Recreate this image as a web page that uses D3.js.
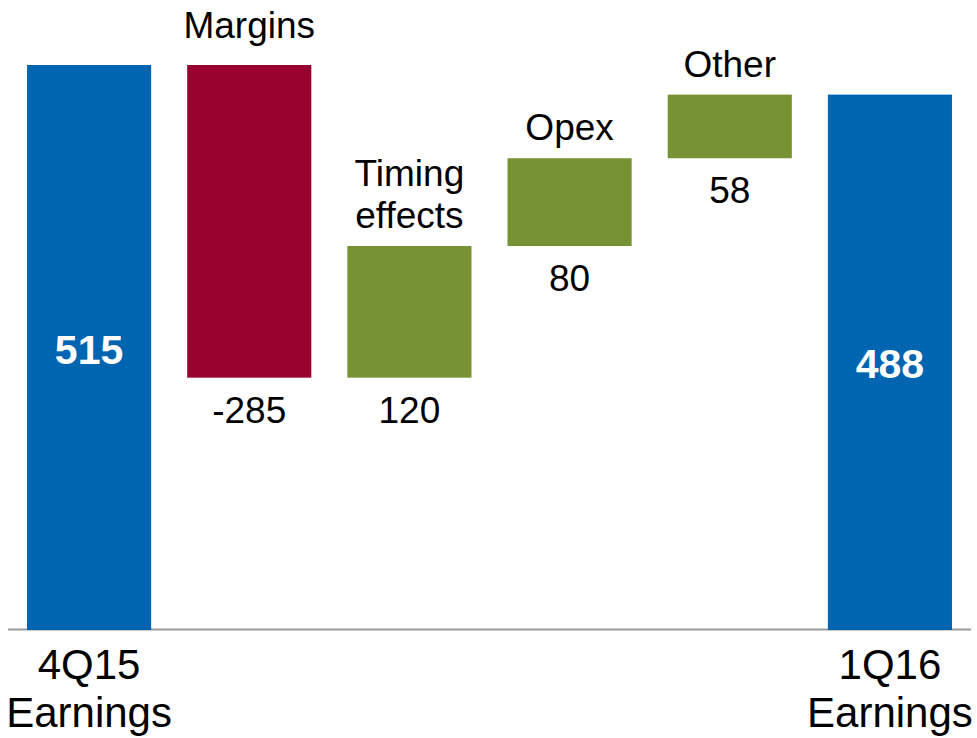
<!DOCTYPE html>
<html>
<head>
<meta charset="utf-8">
<script src="https://cdn.jsdelivr.net/npm/d3@7"></script>
<style>
  html, body { margin: 0; padding: 0; background: #fff; }
  svg { display: block; font-family: "Liberation Sans", Arial, sans-serif; }
</style>
</head>
<body>
<svg id="chart" width="977" height="738"></svg>
<script>
// ---- data ----
const categories = ["4Q15 Earnings", "Margins", "Timing effects", "Opex", "Other", "1Q16 Earnings"];
const values     = [515, -285, 120, 80, 58, 488];
const kinds      = ["total", "delta", "delta", "delta", "delta", "total"];
const axisLabels = [["4Q15", "Earnings"], [], [], [], [], ["1Q16", "Earnings"]];
const barLabels  = [[], ["Margins"], ["Timing", "effects"], ["Opex"], ["Other"], []];

const colors = { total: "#0065b0", pos: "#779232", neg: "#98002e" };

// ---- layout ----
const svg = d3.select("#chart");

const x = d3.scaleBand()
  .domain(categories)
  .range([9, 970])
  .paddingInner(0.225)
  .paddingOuter(0.1125);

const y = d3.scaleLinear().domain([0, 515]).range([630, 65]);

// compute waterfall segments
let running = 0;
const bars = categories.map((c, i) => {
  let y0, y1;
  if (kinds[i] === "total") { y0 = 0; y1 = values[i]; running = values[i]; }
  else { y0 = running; y1 = running + values[i]; running = y1; }
  return { cat: c, v: values[i], kind: kinds[i], lo: Math.min(y0, y1), hi: Math.max(y0, y1), i };
});

// baseline
svg.append("line")
  .attr("x1", 8).attr("x2", 971)
  .attr("y1", y(0) - 0.5).attr("y2", y(0) - 0.5)
  .attr("stroke", "#999").attr("stroke-width", 2);

// bars
svg.selectAll("rect.bar").data(bars).join("rect")
  .attr("class", "bar")
  .attr("x", d => x(d.cat))
  .attr("width", x.bandwidth())
  .attr("y", d => y(d.hi))
  .attr("height", d => y(d.lo) - y(d.hi))
  .attr("fill", d => d.kind === "total" ? colors.total : (d.v >= 0 ? colors.pos : colors.neg));

// total values inside bars
svg.selectAll("text.total").data(bars.filter(d => d.kind === "total")).join("text")
  .attr("class", "total")
  .attr("x", d => x(d.cat) + x.bandwidth() / 2)
  .attr("y", d => (y(d.hi) + y(d.lo)) / 2 + 16)
  .attr("text-anchor", "middle")
  .attr("font-size", 41).attr("font-weight", "bold").attr("fill", "#fff")
  .text(d => d.v);

// delta values below bars
svg.selectAll("text.delta").data(bars.filter(d => d.kind === "delta")).join("text")
  .attr("class", "delta")
  .attr("x", d => x(d.cat) + x.bandwidth() / 2)
  .attr("y", d => y(d.lo) + 45)
  .attr("text-anchor", "middle")
  .attr("font-size", 37).attr("fill", "#000")
  .text(d => d.v);

// category labels above delta bars
bars.filter(d => d.kind === "delta").forEach(d => {
  const lines = barLabels[d.i];
  const gap = d.v < 0 ? 27 : 18;
  const lh = 42;
  const base = y(d.hi) - gap;
  lines.forEach((t, k) => {
    svg.append("text")
      .attr("x", x(d.cat) + x.bandwidth() / 2)
      .attr("y", base - (lines.length - 1 - k) * lh)
      .attr("text-anchor", "middle")
      .attr("font-size", 37).attr("fill", "#000")
      .text(t);
  });
});

// axis labels under totals
bars.filter(d => d.kind === "total").forEach(d => {
  axisLabels[d.i].forEach((t, k) => {
    svg.append("text")
      .attr("x", x(d.cat) + x.bandwidth() / 2)
      .attr("y", 679 + k * 48)
      .attr("text-anchor", "middle")
      .attr("font-size", 42).attr("fill", "#000")
      .text(t);
  });
});
</script>
</body>
</html>
